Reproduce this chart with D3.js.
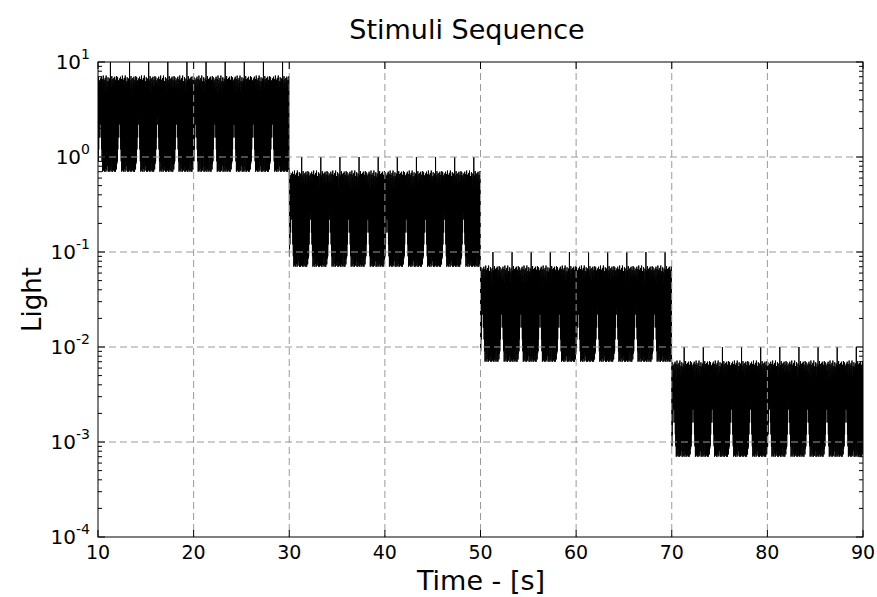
<!DOCTYPE html>
<html>
<head>
<meta charset="utf-8">
<script src="https://cdn.jsdelivr.net/npm/d3@7"></script>
<style>
  body { margin: 0; background: #fff; }
  text { font-family: "DejaVu Sans", sans-serif; fill: #000; }
</style>
</head>
<body>
<svg class="chart"></svg>
<script>
// one 2 s stimulus cycle, sampled every 25 ms, relative to the block level
const cycleValues = [
  6.2, 0.9, 6.9, 1.2, 5.4, 1.6, 6.4, 2.2, 5.8, 2.6,
  6.7, 2.2, 5.1, 1.6, 7.0, 1.2, 5.6, 0.9, 6.6, 0.7,
  4.7, 0.95, 7.2, 0.72, 6.0, 0.85, 6.5, 0.7, 5.2, 1.05,
  6.8, 0.75, 5.9, 0.7, 7.2, 0.9, 4.9, 0.72, 6.3, 0.8,
  5.5, 1.0, 6.9, 0.7, 6.2, 0.78, 4.8, 0.7, 6.7, 0.95,
  5.8, 0.72, 10.0, 0.8, 6.4, 0.7, 5.3, 1.0, 7.1, 0.74,
  5.9, 0.7, 6.6, 0.88, 5.0, 0.72, 6.8, 1.02, 6.1, 0.7,
  7.0, 0.82, 5.4, 0.7, 6.5, 0.95, 5.6, 0.74, 7.1, 0.85
]
const sampleStep = 0.025
const blockStarts = [10, 30, 50, 70]
const blockEnds = [30, 50, 70, 90]
const blockLevels = [1, 0.1, 0.01, 0.001]

const xTicks = [10, 20, 30, 40, 50, 60, 70, 80, 90]
const yExponents = [1, 0, -1, -2, -3, -4]

// build the series from the blocks and the cycle
const series = []
blockStarts.forEach((start, b) => {
  const n = Math.round((blockEnds[b] - start) / sampleStep)
  for (let i = 0; i < n; i++) {
    series.push({ t: start + i * sampleStep, v: cycleValues[i % cycleValues.length] * blockLevels[b] })
  }
})

const width = 877
const height = 597
const margin = { left: 98, right: 14, top: 62, bottom: 60 }

const svg = d3.select('.chart').attr('width', width).attr('height', height)

const x = d3.scaleLinear().domain([10, 90]).range([margin.left, width - margin.right])
const y = d3.scaleLog().domain([1e-4, 1e1]).range([height - margin.bottom, margin.top])

svg.append('defs').append('clipPath').attr('id', 'clip')
  .append('rect')
  .attr('x', margin.left).attr('y', margin.top)
  .attr('width', x(90) - x(10)).attr('height', y(1e-4) - y(1e1))

const line = d3.line().x(d => x(d.t)).y(d => y(d.v))

svg.append('path')
  .datum(series)
  .attr('clip-path', 'url(#clip)')
  .attr('fill', 'none')
  .attr('stroke', '#000')
  .attr('stroke-width', 1)
  .attr('d', line)

// grid
const grid = svg.append('g').attr('stroke', '#9a9a9a').attr('stroke-dasharray', '7,4').attr('stroke-width', 1)
grid.selectAll('.gx').data(xTicks.slice(1, -1)).enter().append('line')
  .attr('x1', d => x(d)).attr('x2', d => x(d))
  .attr('y1', y(1e1)).attr('y2', y(1e-4))
grid.selectAll('.gy').data(yExponents.slice(1, -1)).enter().append('line')
  .attr('x1', x(10)).attr('x2', x(90))
  .attr('y1', d => y(Math.pow(10, d))).attr('y2', d => y(Math.pow(10, d)))

// frame
svg.append('rect')
  .attr('x', x(10)).attr('y', y(1e1))
  .attr('width', x(90) - x(10)).attr('height', y(1e-4) - y(1e1))
  .attr('fill', 'none').attr('stroke', '#000').attr('stroke-width', 1)

// ticks inside, on all four sides
const ticks = svg.append('g').attr('stroke', '#000').attr('stroke-width', 1)
xTicks.forEach(t => {
  ticks.append('line').attr('x1', x(t)).attr('x2', x(t)).attr('y1', y(1e-4)).attr('y2', y(1e-4) - 7)
  ticks.append('line').attr('x1', x(t)).attr('x2', x(t)).attr('y1', y(1e1)).attr('y2', y(1e1) + 7)
})
const minor = []
yExponents.slice(1).forEach(e => {
  for (let k = 2; k <= 9; k++) minor.push(k * Math.pow(10, e))
})
yExponents.forEach(e => {
  const yy = y(Math.pow(10, e))
  ticks.append('line').attr('x1', x(10)).attr('x2', x(10) + 7).attr('y1', yy).attr('y2', yy)
  ticks.append('line').attr('x1', x(90)).attr('x2', x(90) - 7).attr('y1', yy).attr('y2', yy)
})
minor.forEach(v => {
  const yy = y(v)
  ticks.append('line').attr('x1', x(10)).attr('x2', x(10) + 4).attr('y1', yy).attr('y2', yy)
  ticks.append('line').attr('x1', x(90)).attr('x2', x(90) - 4).attr('y1', yy).attr('y2', yy)
})

// tick labels
svg.append('g').selectAll('text').data(xTicks).enter().append('text')
  .attr('x', d => x(d)).attr('y', y(1e-4) + 22)
  .attr('text-anchor', 'middle').attr('font-size', 19)
  .text(d => d)

const yl = svg.append('g').selectAll('text').data(yExponents).enter().append('text')
  .attr('x', x(10) - 8).attr('y', d => y(Math.pow(10, d)) + 7)
  .attr('text-anchor', 'end').attr('font-size', 20)
yl.append('tspan').text('10')
yl.append('tspan').attr('dy', -10).attr('font-size', 14).text(d => d)

// titles
svg.append('text').attr('x', 467).attr('y', 39)
  .attr('text-anchor', 'middle').attr('font-size', 27).text('Stimuli Sequence')
svg.append('text').attr('x', 481).attr('y', 590)
  .attr('text-anchor', 'middle').attr('font-size', 27).text('Time - [s]')
svg.append('text').attr('transform', `translate(41,${(y(1e1) + y(1e-4)) / 2}) rotate(-90)`)
  .attr('text-anchor', 'middle').attr('font-size', 26).text('Light')
</script>
</body>
</html>
